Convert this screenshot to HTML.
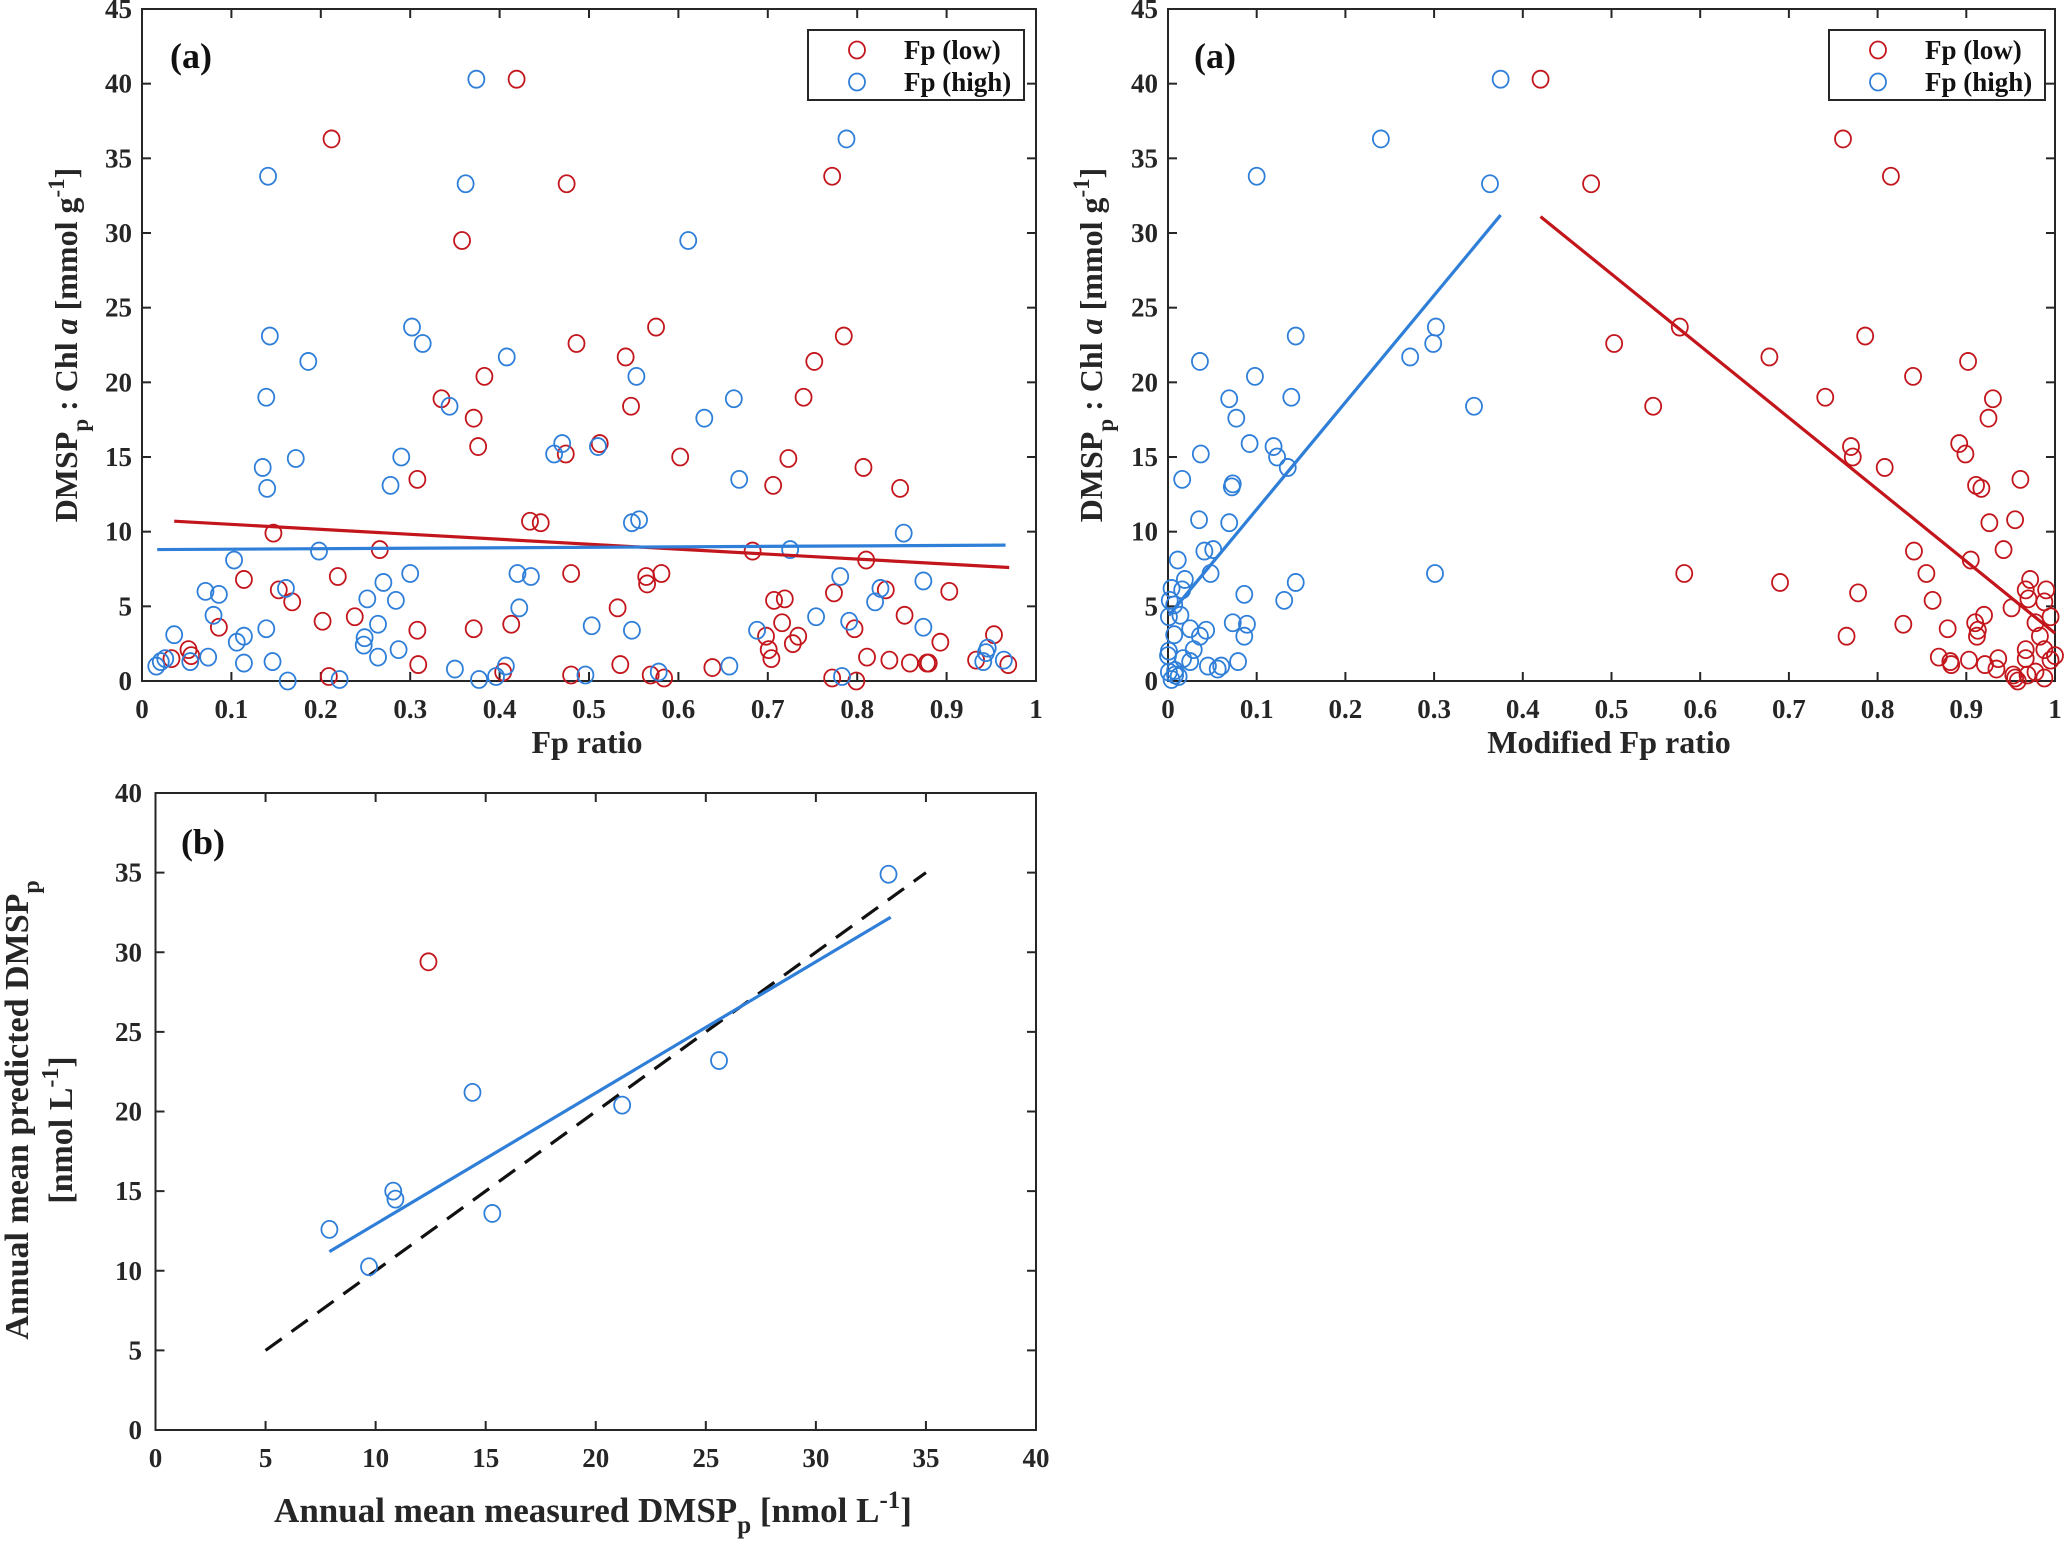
<!DOCTYPE html>
<html><head><meta charset="utf-8"><style>
html,body{margin:0;padding:0;background:#fff;}
svg{display:block;font-family:"Liberation Serif",serif;font-weight:bold;}
</style></head><body>
<svg id="fig" width="2067" height="1543" viewBox="0 0 2067 1543" xmlns="http://www.w3.org/2000/svg"></svg>
<script>
// Panel 1 data: Fp ratio vs DMSPp:Chl a
const p1LowX=[.212,.419,.475,.358,.772,.575,.486,.541,.383,.335,.371,.376,.474,.547,.512,.602,.308,.706,.723,.740,.752,.785,.807,.848,.147,.434,.446,.266,.683,.810,.114,.153,.168,.219,.202,.238,.480,.564,.565,.581,.532,.707,.719,.774,.832,.853,.903,.086,.052,.055,.033,.308,.371,.413,.698,.716,.734,.728,.701,.704,.797,.893,.953,.309,.209,.404,.480,.535,.569,.584,.638,.772,.799,.811,.836,.859,.878,.880,.933,.969];
const p1LowY=[36.3,40.3,33.3,29.5,33.8,23.7,22.6,21.7,20.4,18.9,17.6,15.7,15.2,18.4,15.9,15.0,13.5,13.1,14.9,19.0,21.4,23.1,14.3,12.9,9.9,10.7,10.6,8.8,8.7,8.1,6.8,6.1,5.3,7.0,4.0,4.3,7.2,7.0,6.5,7.2,4.9,5.4,5.5,5.9,6.1,4.4,6.0,3.6,2.1,1.7,1.5,3.4,3.5,3.8,3.0,3.9,3.0,2.5,2.1,1.5,3.5,2.6,3.1,1.1,0.3,0.6,0.4,1.1,0.4,0.2,0.9,0.2,0.0,1.6,1.4,1.2,1.2,1.2,1.4,1.1];
const p1HighX=[.374,.788,.141,.362,.611,.143,.302,.314,.186,.408,.553,.139,.344,.662,.629,.172,.290,.135,.140,.278,.461,.470,.510,.668,.548,.556,.852,.198,.725,.103,.071,.086,.161,.270,.300,.420,.435,.874,.781,.826,.820,.754,.252,.284,.422,.080,.036,.106,.114,.139,.249,.248,.264,.287,.503,.548,.688,.791,.874,.074,.054,.016,.021,.026,.114,.146,.264,.163,.221,.350,.377,.396,.407,.496,.578,.657,.783,.941,.944,.946,.964];
const p1HighY=[40.3,36.3,33.8,33.3,29.5,23.1,23.7,22.6,21.4,21.7,20.4,19.0,18.4,18.9,17.6,14.9,15.0,14.3,12.9,13.1,15.2,15.9,15.7,13.5,10.6,10.8,9.9,8.7,8.8,8.1,6.0,5.8,6.2,6.6,7.2,7.2,7.0,6.7,7.0,6.2,5.3,4.3,5.5,5.4,4.9,4.4,3.1,2.6,3.0,3.5,2.9,2.4,3.8,2.1,3.7,3.4,3.4,4.0,3.6,1.6,1.3,1.0,1.3,1.5,1.2,1.3,1.6,0.0,0.1,0.8,0.1,0.3,1.0,0.4,0.6,1.0,0.3,1.3,1.9,2.2,1.4];
const p1LowFitX=[0.036,0.97], p1LowFitY=[10.7,7.6];
const p1HighFitX=[0.017,0.966], p1HighFitY=[8.8,9.1];
// Panel 2 data: modified Fp ratio
const p2HighX=[.375,.240,.100,.363,.302,.299,.273,.144,.036,.098,.139,.069,.345,.077,.092,.119,.123,.037,.135,.016,.073,.072,.035,.069,.041,.051,.011,.301,.048,.144,.019,.016,.004,.086,.131,.002,.001,.014,.007,.073,.089,.043,.025,.036,.086,.007,.029,.001,.0,.017,.025,.045,.060,.056,.079,.001,.008,.004,.012,.008];
const p2HighY=[40.3,36.3,33.8,33.3,23.7,22.6,21.7,23.1,21.4,20.4,19.0,18.9,18.4,17.6,15.9,15.7,15.0,15.2,14.3,13.5,13.2,13.0,10.8,10.6,8.7,8.8,8.1,7.2,7.2,6.6,6.8,6.1,6.2,5.8,5.4,5.4,4.3,4.4,5.1,3.9,3.8,3.4,3.5,3.0,3.0,3.1,2.1,2.0,1.7,1.5,1.3,1.0,1.0,0.8,1.3,0.6,0.4,0.1,0.3,0.7];
const p2LowX=[.420,.761,.815,.477,.577,.503,.678,.786,.902,.840,.741,.930,.547,.925,.770,.772,.892,.899,.808,.961,.911,.917,.955,.926,.841,.942,.905,.582,.855,.690,.972,.990,.967,.778,.862,.988,.970,.951,.920,.995,.910,.978,.829,.879,.913,.912,.765,.983,.967,.988,.869,.967,1.0,.995,.903,.936,.882,.883,.921,.934,.978,.969,.953,.955,.988,.958];
const p2LowY=[40.3,36.3,33.8,33.3,23.7,22.6,21.7,23.1,21.4,20.4,19.0,18.9,18.4,17.6,15.7,15.0,15.9,15.2,14.3,13.5,13.1,12.9,10.8,10.6,8.7,8.8,8.1,7.2,7.2,6.6,6.8,6.1,6.1,5.9,5.4,5.3,5.5,4.9,4.4,4.3,3.9,3.9,3.8,3.5,3.4,3.0,3.0,3.0,2.1,2.1,1.6,1.5,1.7,1.4,1.4,1.5,1.3,1.1,1.1,0.8,0.6,0.4,0.4,0.2,0.2,0.0];
const p2HighFitX=[0.001,0.375], p2HighFitY=[4.4,31.2];
const p2LowFitX=[0.42,1.0], p2LowFitY=[31.1,3.2];
// Panel 3 data: measured vs predicted
const p3BlueX=[7.9,9.7,10.8,10.9,14.4,15.3,21.2,25.6,33.3];
const p3BlueY=[12.6,10.25,15.0,14.5,21.2,13.6,20.4,23.2,34.9];
const p3RedX=[12.4], p3RedY=[29.4];
const p3FitX=[7.9,33.4], p3FitY=[11.2,32.2];
const p3OneX=[5,35], p3OneY=[5,35];
const tickA=[0,0.1,0.2,0.3,0.4,0.5,0.6,0.7,0.8,0.9,1];
const tickALabels=["0","0.1","0.2","0.3","0.4","0.5","0.6","0.7","0.8","0.9","1"];
const tickY45=[0,5,10,15,20,25,30,35,40,45];
const tickB=[0,5,10,15,20,25,30,35,40];

const NS="http://www.w3.org/2000/svg";
const svg=document.getElementById('fig');
const RED="#c3161c", BLUE="#2f7fd9", AX="#262626";
function mk(tag,attrs,parent){const e=document.createElementNS(NS,tag);for(const k in attrs)e.setAttribute(k,attrs[k]);(parent||svg).appendChild(e);return e;}

function makeAxes(name,x0,x1,y0,y1,xmin,xmax,ymin,ymax){
  const g=mk('g',{});
  
  
  const sx=v=>x0+(v-xmin)/(xmax-xmin)*(x1-x0);
  const sy=v=>y0-(v-ymin)/(ymax-ymin)*(y0-y1);
  return {g,sx,sy,x0,x1,y0,y1};
}
function drawFrame(ax,xt,xl,yt,yl,yLabelX){
  const f=mk('rect',{x:ax.x0,y:ax.y1,width:ax.x1-ax.x0,height:ax.y0-ax.y1,fill:'none',stroke:AX,'stroke-width':2},ax.g);
  
  
  xt.forEach((v,i)=>{
    const x=ax.sx(v);
    mk('line',{x1:x,x2:x,y1:ax.y0,y2:ax.y0-9,stroke:AX,'stroke-width':2},ax.g);
    mk('line',{x1:x,x2:x,y1:ax.y1,y2:ax.y1+9,stroke:AX,'stroke-width':2},ax.g);
    const t=mk('text',{x:x,y:ax.y0+37,'text-anchor':'middle','font-size':27,fill:AX},ax.g);
    t.textContent=xl[i];
    
    
  });
  yt.forEach((v,i)=>{
    const y=ax.sy(v);
    mk('line',{x1:ax.x0,x2:ax.x0+9,y1:y,y2:y,stroke:AX,'stroke-width':2},ax.g);
    mk('line',{x1:ax.x1,x2:ax.x1-9,y1:y,y2:y,stroke:AX,'stroke-width':2},ax.g);
    const t=mk('text',{x:yLabelX,y:y+9,'text-anchor':'end','font-size':27,fill:AX},ax.g);
    t.textContent=yl[i];
    
    
  });
}
function drawPoints(ax,xs,ys,color,name){
  xs.forEach((v,i)=>{
    const c=mk('ellipse',{cx:ax.sx(v),cy:ax.sy(ys[i]),rx:8,ry:8.5,fill:'none',stroke:color,'stroke-width':1.8},ax.g);
    
    
  });
}
function drawLine(ax,xs,ys,color,name,dash){
  const a={x1:ax.sx(xs[0]),y1:ax.sy(ys[0]),x2:ax.sx(xs[1]),y2:ax.sy(ys[1]),stroke:color,'stroke-width':3.2};
  if(dash)a['stroke-dasharray']=dash;
  const l=mk('line',a,ax.g);
  
  
}
function legend(x,y){
  const g=mk('g',{});
  
  
  mk('rect',{x:x,y:y,width:216,height:70,fill:'#fff',stroke:AX,'stroke-width':2},g);
  [[RED,'Fp (low)',20],[BLUE,'Fp (high)',52]].forEach(e=>{
    const c=mk('ellipse',{cx:x+49,cy:y+e[2],rx:8,ry:8.5,fill:'none',stroke:e[0],'stroke-width':1.8},g);
    
    
    const t=mk('text',{x:x+96,y:y+e[2]+9,'font-size':27,fill:'#111'},g);
    t.textContent=e[1];
    
    
  });
}
function textEl(attrs,html,name,parent){
  const t=mk('text',attrs,parent);t.innerHTML=html;
  
  
  return t;
}
const yLab='DMSP<tspan font-size="23" dy="11">p</tspan><tspan dy="-11"> : Chl </tspan><tspan font-style="italic">a</tspan> [mmol g<tspan font-size="23" dy="-13">-1</tspan><tspan dy="13">]</tspan>';

// Panel 1
const a1=makeAxes('panel-a-fp-ratio',142,1036,681,9,0,1,0,45);
drawFrame(a1,tickA,tickALabels,tickY45,tickY45.map(String),132);
drawPoints(a1,p1LowX,p1LowY,RED,'fp-low-point');
drawPoints(a1,p1HighX,p1HighY,BLUE,'fp-high-point');
drawLine(a1,p1LowFitX,p1LowFitY,RED,'fp-low-fit-line');
drawLine(a1,p1HighFitX,p1HighFitY,BLUE,'fp-high-fit-line');
legend(808,30);
textEl({x:170,y:68,'font-size':36,fill:'#111'},'(a)','panel-label-a');
textEl({x:587,y:753,'text-anchor':'middle','font-size':32,fill:AX},'Fp ratio','x-axis-title');
textEl({x:0,y:0,'text-anchor':'middle','font-size':32,fill:AX,transform:'translate(77,345) rotate(-90)'},yLab,'y-axis-title');

// Panel 2
const a2=makeAxes('panel-a-modified-fp-ratio',1168,2055,681,9,0,1,0,45);
drawFrame(a2,tickA,tickALabels,tickY45,tickY45.map(String),1158);
drawPoints(a2,p2LowX,p2LowY,RED,'fp-low-point');
drawPoints(a2,p2HighX,p2HighY,BLUE,'fp-high-point');
drawLine(a2,p2HighFitX,p2HighFitY,BLUE,'fp-high-fit-line');
drawLine(a2,p2LowFitX,p2LowFitY,RED,'fp-low-fit-line');
legend(1829,30);
textEl({x:1194,y:68,'font-size':36,fill:'#111'},'(a)','panel-label-a2');
textEl({x:1609,y:753,'text-anchor':'middle','font-size':32,fill:AX},'Modified Fp ratio','x-axis-title');
textEl({x:0,y:0,'text-anchor':'middle','font-size':32,fill:AX,transform:'translate(1102,345) rotate(-90)'},yLab,'y-axis-title');

// Panel 3
const a3=makeAxes('panel-b-measured-vs-predicted',155.5,1036,1430,793,0,40,0,40);
drawFrame(a3,tickB,tickB.map(String),tickB,tickB.map(String),142);
drawLine(a3,p3OneX,p3OneY,'#111','one-to-one-line','20,12');
drawLine(a3,p3FitX,p3FitY,BLUE,'regression-line');
drawPoints(a3,p3BlueX,p3BlueY,BLUE,'station-point');
drawPoints(a3,p3RedX,p3RedY,RED,'outlier-point');
textEl({x:181,y:854,'font-size':36,fill:'#111'},'(b)','panel-label-b');
textEl({x:593,y:1522,'text-anchor':'middle','font-size':35,fill:AX},'Annual mean measured DMSP<tspan font-size="25" dy="11">p</tspan><tspan dy="-11"> [nmol L</tspan><tspan font-size="25" dy="-14">-1</tspan><tspan dy="14">]</tspan>','x-axis-title');
textEl({x:0,y:0,'text-anchor':'middle','font-size':34,fill:AX,transform:'translate(28,1110) rotate(-90)'},'Annual mean predicted DMSP<tspan font-size="24" dy="11">p</tspan>','y-axis-title-line1');
textEl({x:0,y:0,'text-anchor':'middle','font-size':34,fill:AX,transform:'translate(72,1130) rotate(-90)'},'[nmol L<tspan font-size="24" dy="-14">-1</tspan><tspan dy="14">]</tspan>','y-axis-title-line2');
</script>
</body></html>
